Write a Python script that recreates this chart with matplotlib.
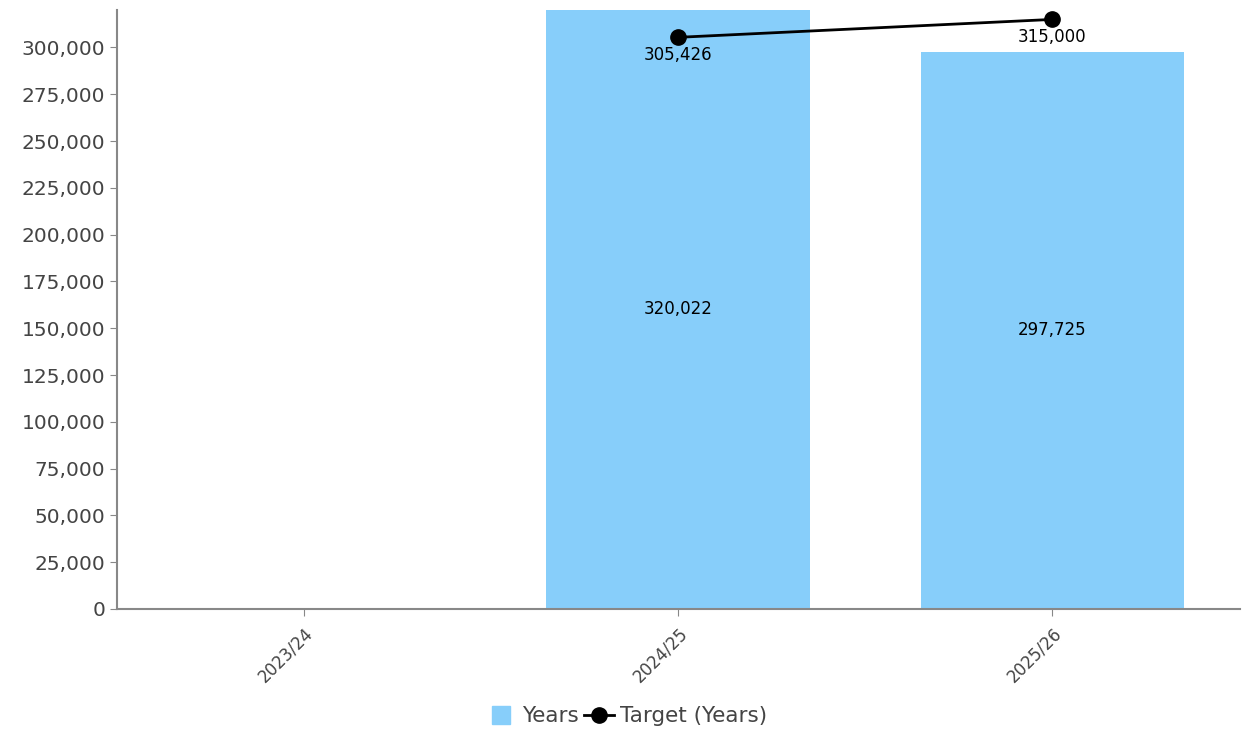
import matplotlib.pyplot as plt
from matplotlib.lines import Line2D
from matplotlib.ticker import FuncFormatter, MultipleLocator

categories = ["2023/24", "2024/25", "2025/26"]
years = [0, 320022, 297725]
target_idx = [1, 2]
target = [305426, 315000]

bar_color = "#87CEFA"

fig = plt.figure(figsize=(12.42, 7.36), dpi=100)
ax = fig.add_axes([0.0942, 0.1726, 0.9038, 0.8138])

x = list(range(len(categories)))
ax.bar(x, years, width=0.705, color=bar_color, zorder=2)
ax.plot(target_idx, target, color="black", lw=2, marker="o", ms=11, zorder=3)

for i, v in zip(x, years):
    if v:
        ax.text(i, v / 2, f"{v:,}", ha="center", va="center", fontsize=12, color="black", zorder=4)
for i, v in zip(target_idx, target):
    ax.annotate(f"{v:,}", (i, v), xytext=(0, -6), textcoords="offset points",
                ha="center", va="top", fontsize=12, color="black", zorder=4)

ax.set_xlim(-0.5, 2.5)
ax.set_ylim(0, max(years))
ax.yaxis.set_major_locator(MultipleLocator(25000))
ax.yaxis.set_major_formatter(FuncFormatter(lambda v, p: f"{int(v):,}"))
ax.set_xticks(x)
ax.set_xticklabels(categories, rotation=45, ha="right", rotation_mode="anchor")

for s in ["top", "right"]:
    ax.spines[s].set_visible(False)
for s in ["left", "bottom"]:
    ax.spines[s].set_color("#888888")
    ax.spines[s].set_linewidth(1.5)
ax.tick_params(axis="y", colors="#888888", labelcolor="#444444", labelsize=14.5, length=5)
ax.tick_params(axis="x", colors="#888888", labelcolor="#444444", labelsize=12, length=5, pad=6)

handles = [
    Line2D([], [], ls="none", marker="s", ms=13, color=bar_color),
    Line2D([], [], color="black", lw=2, marker="o", ms=11),
]
leg = ax.legend(handles, ["Years", "Target (Years)"], loc="center",
                bbox_to_anchor=(0.454, -0.179), ncol=2, frameon=False,
                fontsize=15.5, handlelength=1.4, handletextpad=0.3, columnspacing=0.2)
for t in leg.get_texts():
    t.set_color("#444444")

fig.savefig("out.png", dpi=100)
